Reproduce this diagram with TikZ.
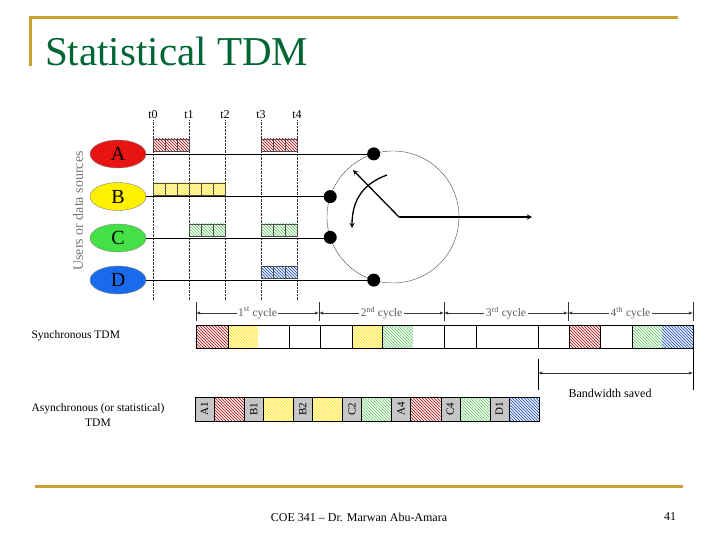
\documentclass[tikz,border=0pt]{standalone}
\usepackage{fontspec}
\setmainfont{Liberation Serif}
\usepackage{xcolor}
\usepackage{tikz}
\usetikzlibrary{shapes.geometric, arrows, patterns, positioning}
\definecolor{mygold}{rgb}{0.78, 0.63, 0.20}
\definecolor{mytitle}{rgb}{0.00, 0.40, 0.20}
\definecolor{myred}{rgb}{0.91, 0.08, 0.08}
\definecolor{myyellow}{rgb}{1.00, 0.94, 0.00}
\definecolor{mygreen}{rgb}{0.27, 0.88, 0.27}
\definecolor{myblue}{rgb}{0.10, 0.42, 0.92}
\tikzstyle{src} = [ellipse, minimum width=56pt, minimum height=28pt, draw=black!50, inner sep=1pt, font=\fontsize{20}{20}\selectfont]
\tikzstyle{dot} = [circle, fill=black, inner sep=0pt, minimum size=13pt]
\tikzstyle{tick} = [densely dotted, black!80]
\tikzstyle{tlbl} = [font=\fontsize{12}{12}\selectfont, inner sep=1pt]
\tikzstyle{arrow} = [line width=1.3pt,->,>=stealth]
\tikzstyle{span} = [black!80, <->, >=latex]
\tikzstyle{cyc} = [fill=white, text=black!65, font=\fontsize{11.5}{11.5}\selectfont, inner sep=1.5pt]
\tikzstyle{hA} = [preaction={fill=red!8}, pattern=north west lines, pattern color=myred!70!black]
\tikzstyle{hB} = [preaction={fill=yellow!18}, pattern=north west lines, pattern color=yellow!75!orange]
\tikzstyle{hC} = [preaction={fill=green!8}, pattern=north west lines, pattern color=green!55!black!55]
\tikzstyle{hD} = [preaction={fill=blue!8}, pattern=north west lines, pattern color=myblue!75!black]
\tikzstyle{lab} = [fill=gray!45, draw=black]

\begin{document}
\begin{tikzpicture}[x=1pt, y=-1pt, font=\small]
    \useasboundingbox (0,0) rectangle (720,540);
    % slide frame
    \draw [mygold, line width=3pt] (30,66) -- (30,18) -- (678,18);
    \node (title) [anchor=base west, text=mytitle, font=\fontsize{41}{41}\selectfont, inner sep=0pt] at (45,66) {Statistical TDM};
    \draw [mygold, line width=3pt] (35,486) -- (683,486);
    \node (foot) [anchor=base, font=\fontsize{12}{12}\selectfont] at (359,521) {COE 341 -- Dr. Marwan Abu-Amara};
    \node (page) [anchor=base, font=\fontsize{12}{12}\selectfont] at (670,520) {41};

    % time marks
    \foreach \x/\t in {153/t0, 189/t1, 225/t2, 261/t3, 297/t4} {
        \node (\t) [tlbl] at (\x,115) {\t};
        \draw [tick] (\t.south) -- (\x,300);
    }

    % data blocks
    \foreach \x in {153,165,177,261,273,285} \draw [hA, draw=black!70] (\x,139) rectangle ++(12,12);
    \foreach \x in {153,165,...,213} \draw [hB, draw=black!70] (\x,183) rectangle ++(12,12);
    \foreach \x in {189,201,213,261,273,285} \draw [hC, draw=black!70] (\x,224) rectangle ++(12,12);
    \foreach \x in {261,273,285} \draw [hD, draw=black!70] (\x,266) rectangle ++(12,12);

    % sources
    \node (users) [rotate=90, text=black!55, font=\fontsize{14}{14}\selectfont] at (78,211) {Users or data sources};
    \node (A) [src, fill=myred] at (118,154) {A};
    \node (B) [src, fill=myyellow] at (118,196.5) {B};
    \node (C) [src, fill=mygreen] at (118,238) {C};
    \node (D) [src, fill=myblue] at (118,280) {D};

    % switch
    \node (sw) [circle, draw=black!70, minimum size=132pt, inner sep=0pt, outer sep=0pt] at (393,217) {};
    \node (dA) [dot] at (sw.107) {};
    \node (dB) [dot] at (sw.162) {};
    \node (dC) [dot] at (sw.198.5) {};
    \node (dD) [dot] at (sw.253) {};
    \draw (A) -- (A -| dA);
    \draw (B) -- (B -| dB);
    \draw (C) -- (C -| dC);
    \draw (D) -- (D -| dD);
    \coordinate (piv) at (399,217);
    \coordinate (out) at (532,217);
    \draw [arrow] (piv) -- (353,170);
    \draw [arrow] (piv) -- (out);
    \draw [arrow] (387,175) .. controls (365,183) and (352,198) .. (352,228);

    % cycles
    \foreach \x in {196,319,444,568,693} \draw [black!80] (\x,302) -- (\x,321);
    \draw [span] (196,313) -- node (c1) [cyc] {1\textsuperscript{st} cycle} (319,313);
    \draw [span] (319,313) -- node (c2) [cyc] {2\textsuperscript{nd} cycle} (444,313);
    \draw [span] (444,313) -- node (c3) [cyc] {3\textsuperscript{rd} cycle} (568,313);
    \draw [span] (568,313) -- node (c4) [cyc] {4\textsuperscript{th} cycle} (693,313);

    % synchronous TDM
    \node (sync) [anchor=west, font=\fontsize{11.5}{11.5}\selectfont] at (28,336) {Synchronous TDM};
    \fill [hA] (196,325) rectangle (228,348);
    \fill [hB] (228,325) rectangle (258,348);
    \fill [hB] (352,325) rectangle (382,348);
    \fill [hC] (382,325) rectangle (413,348);
    \fill [hA] (569,325) rectangle (600,348);
    \fill [hC] (632,325) rectangle (662,348);
    \fill [hD] (662,325) rectangle (693,348);
    \draw (196,325) rectangle (693,348);
    \foreach \x in {228,289,320,352,382,444,476,538,569,600,632} \draw (\x,325) -- (\x,348);

    % bandwidth saved
    \draw (538,359) -- (538,390);
    \draw (693,348) -- (693,390);
    \draw [span] (538,373) -- (693,373);
    \node (bw) [font=\fontsize{12}{12}\selectfont] at (610,393) {Bandwidth saved};

    % asynchronous TDM
    \node (async) [align=center, font=\fontsize{11.5}{14.5}\selectfont] at (98,415) {Asynchronous (or statistical)\\TDM};
    \foreach \l/\h [count=\i from 0] in {A1/hA, B1/hB, B2/hB, C2/hC, A4/hA, C4/hC, D1/hD} {
        \pgfmathsetmacro\xa{195+\i*49.14}
        \draw [lab] (\xa,397) rectangle ++(19,24);
        \node (a\l) [rotate=90, font=\fontsize{11}{11}\selectfont, inner sep=0pt] at (\xa+9.5,409) {\l};
        \draw [\h, draw=black] (\xa+19,397) rectangle ++(30.14,24);
    }
\end{tikzpicture}
\end{document}
